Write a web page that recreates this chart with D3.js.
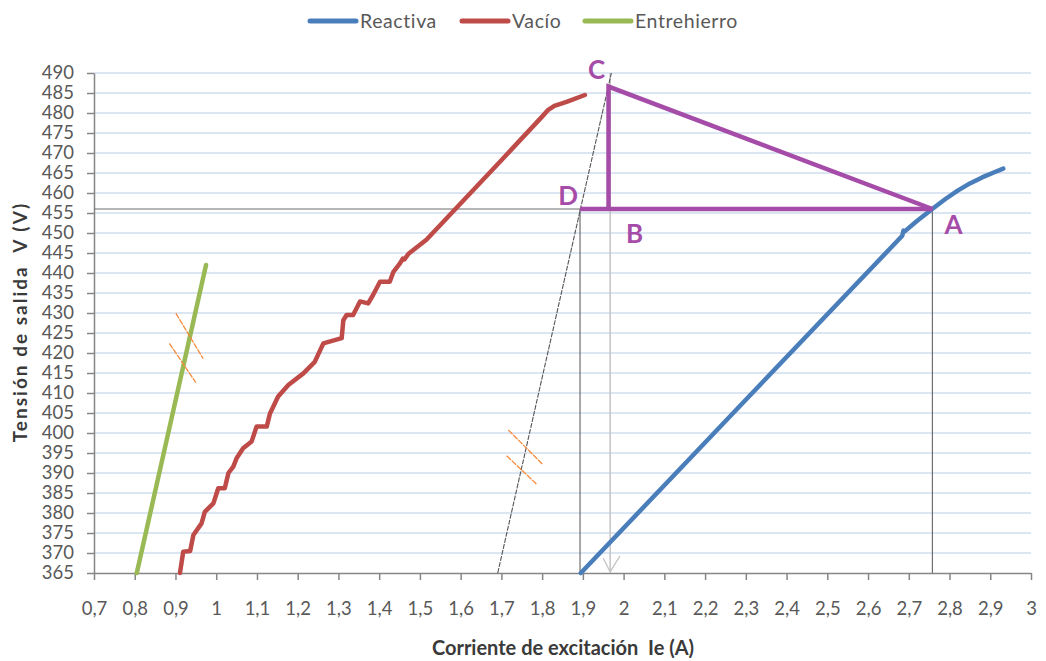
<!DOCTYPE html>
<html>
<head>
<meta charset="utf-8">
<script src="https://cdn.jsdelivr.net/npm/d3@7"></script>
<style>
  body { margin: 0; background: #fff; }
  svg text { font-family: Lato, "Open Sans", sans-serif; white-space: pre; }
</style>
</head>
<body>
<svg id="chart" width="1046" height="661"></svg>
<script>
// Axis ticks
const xTickValues = [0.7, 0.8, 0.9, 1, 1.1, 1.2, 1.3, 1.4, 1.5, 1.6, 1.7, 1.8, 1.9, 2,
                     2.1, 2.2, 2.3, 2.4, 2.5, 2.6, 2.7, 2.8, 2.9, 3];
const yTickValues = [365, 370, 375, 380, 385, 390, 395, 400, 405, 410, 415, 420, 425,
                     430, 435, 440, 445, 450, 455, 460, 465, 470, 475, 480, 485, 490];

// Reactiva curve (Ie in A, V in V)
const reactivaI = [1.895, 2.300, 2.684, 2.687, 2.690, 2.720, 2.760, 2.790, 2.820,
                   2.850, 2.880, 2.910, 2.932];
const reactivaV = [365.0, 408.3, 449.3, 450.6, 450.4, 453.0, 456.2, 458.5, 460.6,
                   462.4, 463.9, 465.2, 466.1];

// Vacío (open-circuit) curve
const vacioI = [0.911, 0.919, 0.936, 0.944, 0.964, 0.972, 0.993, 1.005, 1.021, 1.030, 1.042,
                1.050, 1.066, 1.087, 1.099, 1.124, 1.132, 1.152, 1.177, 1.214, 1.242, 1.263,
                1.308, 1.312, 1.320, 1.336, 1.353, 1.373, 1.385, 1.402, 1.426, 1.435, 1.451,
                1.458, 1.462, 1.472, 1.516, 1.590, 1.700, 1.800, 1.815, 1.830, 1.860, 1.905];
const vacioV = [365.0, 370.3, 370.5, 374.5, 377.4, 380.3, 382.4, 386.2, 386.2, 390.0, 391.6,
                393.7, 396.2, 397.9, 401.6, 401.6, 404.9, 409.1, 412.0, 414.9, 417.8, 422.4,
                423.7, 428.2, 429.5, 429.5, 432.9, 432.4, 434.5, 437.8, 437.8, 440.3, 442.4,
                443.6, 443.4, 444.8, 448.3, 456.3, 468.2, 479.1, 480.8, 481.8, 482.8, 484.5];

// Entrehierro (air-gap) line
const entrehierroI = [0.805, 0.975];
const entrehierroV = [365, 442];

// Potier triangle construction points [Ie, V]
const pointA = [2.758, 456];
const pointB = [1.963, 456];
const pointC = [1.963, 486.6];
const pointD = [1.893, 456];

// Air-gap line shifted through D and C
const shiftedI = [1.691, 1.970];
const shiftedV = [365, 490];

// Vertical reference through B with arrow at the axis
const refBI = 1.967;
const arrowI = [1.950, 1.967, 1.991];
const arrowV = [368.7, 365.3, 369.3];

// Short parallel marks on the air-gap and shifted lines
const marks = [
  [[0.901, 429.9], [0.968, 418.6]],
  [[0.885, 422.4], [0.950, 412.6]],
  [[1.717, 400.75], [1.801, 392.2]],
  [[1.713, 394.3], [1.786, 387.25]]
];

const seriesNames = ["Reactiva", "Vacío", "Entrehierro"];
const seriesColors = ["#4a7ebb", "#be4b48", "#98b954"];

const svg = d3.select("#chart");
const plotLeft = 94, plotRight = 1031, plotTop = 73, plotBottom = 573;

const x = d3.scaleLinear().domain([0.7, 3]).range([plotLeft, plotRight]);
const y = d3.scaleLinear().domain([365, 490]).range([plotBottom, plotTop]);

const fmt = d => String(d).replace(".", ",");

// Horizontal gridlines
svg.append("g").selectAll("line")
  .data(yTickValues.filter(v => v > 365))
  .join("line")
  .attr("x1", plotLeft).attr("x2", plotRight)
  .attr("y1", d => y(d)).attr("y2", d => y(d))
  .attr("stroke", "#b9cbe6").attr("stroke-width", 1.2);

// Axes
const xAxis = svg.append("g")
  .attr("transform", `translate(0,${plotBottom})`)
  .call(d3.axisBottom(x).tickValues(xTickValues).tickFormat(fmt)
    .tickSize(7).tickSizeOuter(0).tickPadding(22));
const yAxis = svg.append("g")
  .attr("transform", `translate(${plotLeft},0)`)
  .call(d3.axisLeft(y).tickValues(yTickValues).tickFormat(fmt)
    .tickSize(7).tickSizeOuter(0).tickPadding(13));
[xAxis, yAxis].forEach(g => {
  g.select(".domain").attr("stroke", "#868686").attr("stroke-width", 1.5);
  g.selectAll(".tick line").attr("stroke", "#868686").attr("stroke-width", 1.5);
  g.selectAll(".tick text").attr("fill", "#595959").attr("font-size", 18.5)
    .style("font-family", "Lato, sans-serif");
});

const line = d3.line().x(d => x(d[0])).y(d => y(d[1]));
const zip = (a, b) => a.map((v, i) => [v, b[i]]);

// Thin construction lines
const thin = svg.append("g").attr("fill", "none");
thin.append("path")
  .attr("d", line([[0.7, pointA[1]], pointA]))
  .attr("stroke", "#6f6f6f").attr("stroke-width", 1.2);
thin.append("path")
  .attr("d", line([pointA, [pointA[0], 365]]))
  .attr("stroke", "#6f6f6f").attr("stroke-width", 1.2);
thin.append("path")
  .attr("d", line([pointD, [pointD[0], 365]]))
  .attr("stroke", "#6f6f6f").attr("stroke-width", 1.2);
thin.append("path")
  .attr("d", line([[refBI, 490], [refBI, 365]]))
  .attr("stroke", "#c4c4c4").attr("stroke-width", 1.5);
thin.append("path")
  .attr("d", line(zip(arrowI, arrowV)))
  .attr("stroke", "#c4c4c4").attr("stroke-width", 1.3);
thin.append("path")
  .attr("d", line(zip(shiftedI, shiftedV)))
  .attr("stroke", "#555").attr("stroke-width", 1.1)
  .attr("stroke-dasharray", "5,1.2");

// Data series
const series = [zip(reactivaI, reactivaV), zip(vacioI, vacioV), zip(entrehierroI, entrehierroV)];
svg.append("g").attr("fill", "none")
  .selectAll("path").data(series).join("path")
  .attr("d", d => line(d))
  .attr("stroke", (d, i) => seriesColors[i])
  .attr("stroke-width", 4.5)
  .attr("stroke-linejoin", "round")
  .attr("stroke-linecap", "round");

// Parallel marks
svg.append("g").selectAll("path").data(marks).join("path")
  .attr("d", d => line(d))
  .attr("fill", "none")
  .attr("stroke", "#f58a3c").attr("stroke-width", 1.3)
  .attr("stroke-dasharray", "6,1");

// Potier triangle
const purple = "#a54ca9";
const tri = svg.append("g").attr("fill", "none").attr("stroke", purple)
  .attr("stroke-width", 4.5).attr("stroke-linejoin", "miter");
tri.append("path").attr("d", line([pointD, pointA]));
tri.append("path").attr("d", line([pointB, pointC, pointA]));

// Point labels
const labels = [
  { t: "C", p: pointC, dx: -12, dy: -8 },
  { t: "D", p: pointD, dx: -12, dy: -4 },
  { t: "B", p: pointB, dx: 26, dy: 34 },
  { t: "A", p: pointA, dx: 21, dy: 25 }
];
svg.append("g").selectAll("text").data(labels).join("text")
  .attr("x", d => x(d.p[0]) + d.dx)
  .attr("y", d => y(d.p[1]) + d.dy)
  .attr("text-anchor", "middle")
  .attr("fill", purple)
  .attr("font-size", 26).attr("font-weight", "bold")
  .text(d => d.t);

// Axis titles
svg.append("text")
  .attr("x", 563).attr("y", 655)
  .attr("text-anchor", "middle")
  .attr("fill", "#3a3a3a").attr("font-size", 20).attr("font-weight", "bold")
  .text("Corriente de excitación  Ie (A)");
svg.append("text")
  .attr("transform", "translate(27,322) rotate(-90)")
  .attr("text-anchor", "middle")
  .attr("fill", "#3a3a3a").attr("font-size", 19).attr("font-weight", "bold")
  .attr("letter-spacing", 2)
  .text("Tensión de salida  V (V)");

// Legend
const legendX = [310, 462, 585];
const legend = svg.append("g").selectAll("g").data(seriesNames).join("g")
  .attr("transform", (d, i) => `translate(${legendX[i]},21)`);
legend.append("line")
  .attr("x1", 0).attr("x2", 46)
  .attr("stroke", (d, i) => seriesColors[i])
  .attr("stroke-width", 5).attr("stroke-linecap", "round");
legend.append("text")
  .attr("x", 50).attr("dy", "0.35em")
  .attr("fill", "#595959").attr("font-size", 19.5)
  .attr("letter-spacing", 0.6)
  .text(d => d);
</script>
</body>
</html>
